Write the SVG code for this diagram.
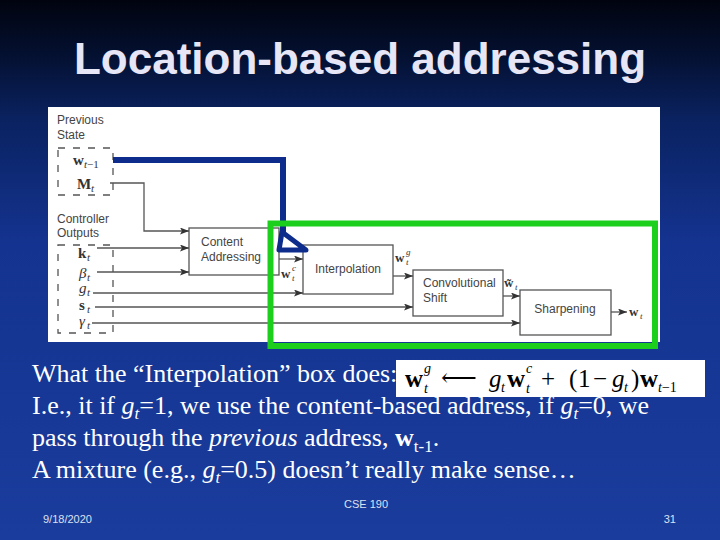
<svg xmlns="http://www.w3.org/2000/svg" width="720" height="540" viewBox="0 0 720 540">
<defs>
<linearGradient id="bg" x1="0" y1="0" x2="0" y2="1">
<stop offset="0" stop-color="#01040f"/>
<stop offset="0.1" stop-color="#041030"/>
<stop offset="0.22" stop-color="#0a2260"/>
<stop offset="0.45" stop-color="#143390"/>
<stop offset="1" stop-color="#1a3c9c"/>
</linearGradient>
<marker id="ah" markerWidth="9" markerHeight="7" refX="9" refY="3.5" orient="auto" markerUnits="userSpaceOnUse">
<path d="M0,0 L9,3.5 L0,7 L2,3.5 z" fill="#333"/>
</marker>
<style>
.title{font-family:"Liberation Sans",Arial,sans-serif;font-weight:bold;font-size:44px;fill:#e6e6f6}
.body{font-family:"Liberation Serif","Times New Roman",serif;font-size:26px;fill:#ffffff}
.foot{font-family:"Liberation Sans",Arial,sans-serif;font-size:11px;fill:#dde0f0}
.lbl{font-family:"Liberation Sans",Arial,sans-serif;font-size:12px;fill:#444}
.m{font-family:"Liberation Serif","Times New Roman",serif;fill:#333}
.box{fill:none;stroke:#555;stroke-width:1.3}
.ln{fill:none;stroke:#555;stroke-width:1.3}
.dash{fill:none;stroke:#555;stroke-width:1.3;stroke-dasharray:7 8}
.fm{font-family:"Liberation Serif","Times New Roman","DejaVu Serif",serif;fill:#000;font-size:25px}
.fs{font-family:"Liberation Serif","Times New Roman",serif;fill:#000;font-size:14px;font-style:italic}
</style>
</defs>
<rect x="0" y="0" width="720" height="540" fill="url(#bg)"/>
<text class="title" x="360" y="74" text-anchor="middle">Location-based addressing</text>

<rect x="48" y="107" width="612" height="235" fill="#ffffff"/>

<g id="prev-state">
<text class="lbl" x="57" y="124">Previous</text>
<text class="lbl" x="57" y="139">State</text>
<rect class="dash" x="58" y="148" width="55" height="47"/>
<text class="m" x="73" y="165" font-size="15" font-weight="bold">w</text>
<text class="m" x="84" y="168" font-size="11" font-style="italic">t<tspan font-style="normal">−1</tspan></text>
<text class="m" x="77" y="189" font-size="15" font-weight="bold">M</text>
<text class="m" x="91" y="192" font-size="11" font-style="italic">t</text>
</g>

<g id="ctrl-out">
<text class="lbl" x="57" y="223">Controller</text>
<text class="lbl" x="57" y="237">Outputs</text>
<rect class="dash" x="58" y="245" width="55" height="88"/>
<text class="m" x="78" y="258" font-size="15" font-weight="bold">k</text>
<text class="m" x="87" y="261" font-size="11" font-style="italic">t</text>
<text class="m" x="79" y="278" font-size="15" font-style="italic">β</text>
<text class="m" x="87" y="281" font-size="11" font-style="italic">t</text>
<text class="m" x="79" y="293" font-size="15" font-style="italic">g</text>
<text class="m" x="87" y="296" font-size="11" font-style="italic">t</text>
<text class="m" x="79" y="310" font-size="15" font-weight="bold">s</text>
<text class="m" x="87" y="313" font-size="11" font-style="italic">t</text>
<text class="m" x="79" y="326" font-size="15" font-style="italic">γ</text>
<text class="m" x="87" y="329" font-size="11" font-style="italic">t</text>
</g>

<g id="content-addressing">
<rect class="box" x="189" y="228" width="90" height="47"/>
<text class="lbl" x="201" y="246">Content</text>
<text class="lbl" x="201" y="261">Addressing</text>
</g>

<g id="interpolation">
<rect class="box" x="303" y="245" width="90" height="49"/>
<text class="lbl" x="348" y="273" text-anchor="middle">Interpolation</text>
</g>

<g id="conv-shift">
<rect class="box" x="413" y="270" width="90" height="46"/>
<text class="lbl" x="423" y="287">Convolutional</text>
<text class="lbl" x="423" y="302">Shift</text>
</g>

<g id="sharpening">
<rect class="box" x="520" y="290" width="91" height="45"/>
<text class="lbl" x="565" y="313" text-anchor="middle">Sharpening</text>
</g>

<g id="connectors">
<path class="ln" d="M110,183 H144 V231 H189" marker-end="url(#ah)"/>
<path class="ln" d="M97,248 H189" marker-end="url(#ah)"/>
<path class="ln" d="M97,272 H189" marker-end="url(#ah)"/>
<path class="ln" d="M93,293 H303" marker-end="url(#ah)"/>
<path class="ln" d="M95,307 H413" marker-end="url(#ah)"/>
<path class="ln" d="M92,323 H520" marker-end="url(#ah)"/>
<path class="ln" d="M279,259 H303" marker-end="url(#ah)"/>
<path class="ln" d="M393,276 H413" marker-end="url(#ah)"/>
<path class="ln" d="M503,296 H520" marker-end="url(#ah)"/>
<path class="ln" d="M611,312 H627" marker-end="url(#ah)"/>
<path d="M113,160 H283 V236" fill="none" stroke="#0d2c8c" stroke-width="6"/>
<polygon points="282,232 279,250 306,250" fill="none" stroke="#0d2c8c" stroke-width="5" stroke-linejoin="round"/>
</g>

<g id="edge-labels">
<text class="m" x="281" y="278" font-size="13" font-weight="bold">w</text>
<text class="m" x="292" y="271" font-size="9" font-style="italic">c</text>
<text class="m" x="292" y="281" font-size="9" font-style="italic">t</text>
<text class="m" x="395" y="262" font-size="13" font-weight="bold">w</text>
<text class="m" x="406" y="255" font-size="9" font-style="italic">g</text>
<text class="m" x="406" y="265" font-size="9" font-style="italic">t</text>
<text class="m" x="504" y="287" font-size="13" font-weight="bold">w̃</text>
<text class="m" x="515" y="290" font-size="9" font-style="italic">t</text>
<text class="m" x="629" y="316" font-size="13" font-weight="bold">w</text>
<text class="m" x="640" y="319" font-size="9" font-style="italic">t</text>
</g>

<rect id="highlight" x="270.5" y="223.5" width="384.5" height="122.5" fill="none" stroke="#1ccf1c" stroke-width="6"/>

<g id="formula">
<rect x="396" y="360" width="309" height="37" fill="#ffffff"/>
<text class="fm" x="405" y="387" font-weight="bold">w</text>
<text class="fs" x="424" y="373">g</text>
<text class="fs" x="424" y="393">t</text>
<text class="fm" x="441" y="386">⟵</text>
<text class="fm" x="489" y="387" font-style="italic">g</text>
<text class="fs" x="501" y="392">t</text>
<text class="fm" x="507" y="387" font-weight="bold">w</text>
<text class="fs" x="526" y="373">c</text>
<text class="fs" x="526" y="393">t</text>
<text class="fm" x="541" y="387">+</text>
<text class="fm" x="569" y="387">(</text>
<text class="fm" x="578" y="387">1</text>
<text class="fm" x="593" y="387">−</text>
<text class="fm" x="612" y="387" font-style="italic">g</text>
<text class="fs" x="624" y="392">t</text>
<text class="fm" x="631" y="387">)</text>
<text class="fm" x="640" y="387" font-weight="bold">w</text>
<text class="fs" x="658" y="392">t<tspan font-style="normal">−1</tspan></text>
</g>

<g id="body-text">
<text class="body" x="32" y="382">What the “Interpolation” box does:</text>
<text class="body" x="32" y="414">I.e., it if <tspan font-style="italic">g</tspan><tspan font-style="italic" font-size="17" dy="5">t</tspan><tspan dy="-5">=1, we use the content-based address, if </tspan><tspan font-style="italic">g</tspan><tspan font-style="italic" font-size="17" dy="5">t</tspan><tspan dy="-5">=0, we</tspan></text>
<text class="body" x="32" y="446">pass through the <tspan font-style="italic">previous</tspan> address, <tspan font-weight="bold">w</tspan><tspan font-size="17" dy="6">t-1</tspan><tspan dy="-6">.</tspan></text>
<text class="body" x="32" y="478">A mixture (e.g., <tspan font-style="italic">g</tspan><tspan font-style="italic" font-size="17" dy="5">t</tspan><tspan dy="-5">=0.5) doesn’t really make sense…</tspan></text>
</g>

<g id="footer">
<text class="foot" x="43" y="523">9/18/2020</text>
<text class="foot" x="366" y="508" text-anchor="middle">CSE 190</text>
<text class="foot" x="676" y="523" text-anchor="end">31</text>
</g>
</svg>
